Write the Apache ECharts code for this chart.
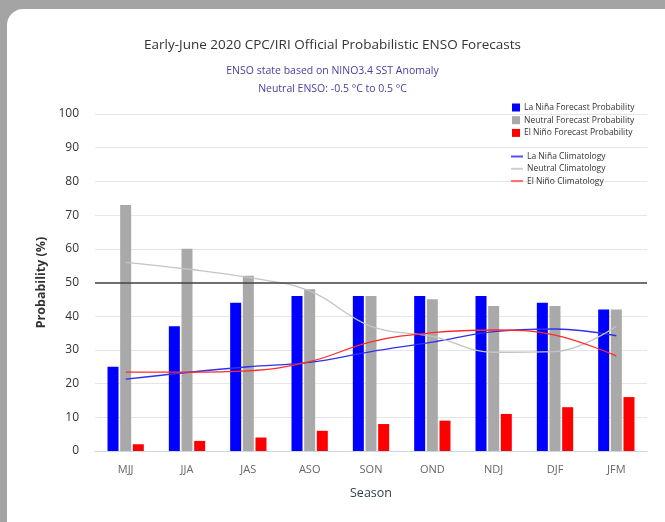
<!DOCTYPE html>
<html>
<head>
<meta charset="utf-8">
<script src="https://cdn.jsdelivr.net/npm/echarts@6/dist/echarts.min.js"></script>
<style>
html,body{margin:0;padding:0;background:#a4a4a4;width:665px;height:522px;overflow:hidden;}
#panel{position:absolute;left:7px;top:9px;width:720px;height:580px;background:#fff;border-radius:16px;}
#main{position:absolute;left:0;top:0;width:665px;height:522px;}
</style>
</head>
<body>
<div id="panel"></div>
<div id="main"></div>
<script>
const seasons = ['MJJ','JJA','JAS','ASO','SON','OND','NDJ','DJF','JFM'];
const laNina = [25, 37, 44, 46, 46, 46, 46, 44, 42];
const neutral = [73, 60, 52, 48, 46, 45, 43, 43, 42];
const elNino = [2, 3, 4, 6, 8, 9, 11, 13, 16];
const laNinaClim = [21.3, 23.3, 25, 26.3, 29.5, 32.3, 35.4, 36.2, 34.2];
const neutralClim = [56, 54, 51.5, 47.5, 37, 34, 29.3, 29.5, 37];
const elNinoClim = [23.4, 23.4, 23.8, 26.5, 32.4, 35.1, 35.9, 34.4, 28.2];
const yTicks = {min: 0, max: 100, interval: 10};
const neutralLine = 50;

const font = '"Open Sans", "Liberation Sans", sans-serif';
const chart = echarts.init(document.getElementById('main'));
const barNames = ['La Niña Forecast Probability','Neutral Forecast Probability','El Niño Forecast Probability'];
const lineNames = ['La Niña Climatology','Neutral Climatology','El Niño Climatology'];
chart.setOption({
  animation: false,
  textStyle: {fontFamily: font},
  title: [
    {text: 'Early-June 2020 CPC/IRI Official Probabilistic ENSO Forecasts', left: 'center', top: 33,
     textStyle: {fontSize: 13.5, fontWeight: 'normal', color: '#333', fontFamily: font}},
    {text: 'ENSO state based on NINO3.4 SST Anomaly', left: 'center', top: 61,
     textStyle: {fontSize: 10.5, fontWeight: 'normal', color: '#4b3d9e', fontFamily: font}},
    {text: 'Neutral ENSO: -0.5 °C to 0.5 °C', left: 'center', top: 79,
     textStyle: {fontSize: 10.5, fontWeight: 'normal', color: '#4b3d9e', fontFamily: font}}
  ],
  legend: [
    {data: barNames, orient: 'vertical', left: 507, top: 98, itemWidth: 8, itemHeight: 8, itemGap: 3.7, icon: 'rect',
     textStyle: {fontSize: 8.5, color: '#333', padding: [0,0,0,-1]}},
    {data: lineNames, orient: 'vertical', left: 506, top: 147, itemWidth: 12, itemHeight: 2, itemGap: 3.3, icon: 'rect',
     textStyle: {fontSize: 8.5, color: '#333', padding: [0,0,0,-1]}}
  ],
  grid: {left: 95, right: 18, top: 114, bottom: 71},
  xAxis: {
    type: 'category', data: seasons, name: 'Season', nameLocation: 'middle', nameGap: 36,
    nameTextStyle: {fontSize: 12.5, color: '#2d3e4e'},
    axisLine: {lineStyle: {color: '#ccd6eb'}}, axisTick: {show: false},
    axisLabel: {fontSize: 11, color: '#666', margin: 13}
  },
  yAxis: {
    type: 'value', min: yTicks.min, max: yTicks.max, interval: yTicks.interval,
    name: 'Probability (%)', nameLocation: 'middle', nameGap: 47,
    nameTextStyle: {fontSize: 12.5, color: '#333', fontWeight: 'bold'},
    axisLabel: {fontSize: 12, color: '#333', margin: 16},
    splitLine: {lineStyle: {color: '#e6e6e6'}}
  },
  series: [
    {name: barNames[0], type: 'bar', data: laNina, barWidth: 11, barGap: '15%', itemStyle: {color: '#0000ff'},
     markLine: {silent: true, symbol: 'none', label: {show: false}, lineStyle: {color: '#444', width: 1.5, type: 'solid'},
       data: [{yAxis: neutralLine}]}},
    {name: barNames[1], type: 'bar', data: neutral, barWidth: 11, barGap: '15%', itemStyle: {color: '#a9a9a9'}},
    {name: barNames[2], type: 'bar', data: elNino, barWidth: 11, barGap: '15%', itemStyle: {color: '#ff0000'}},
    {name: lineNames[0], type: 'line', data: laNinaClim, smooth: 0.4, symbol: 'none', itemStyle: {color: '#5050ff'},
     lineStyle: {color: '#3030ee', width: 1.3}},
    {name: lineNames[1], type: 'line', data: neutralClim, smooth: 0.4, symbol: 'none', itemStyle: {color: '#cfcfcf'},
     lineStyle: {color: '#c4c4c4', width: 1.3}},
    {name: lineNames[2], type: 'line', data: elNinoClim, smooth: 0.4, symbol: 'none', itemStyle: {color: '#ff6a6a'},
     lineStyle: {color: '#ff2a2a', width: 1.3}}
  ]
});
</script>
</body>
</html>
